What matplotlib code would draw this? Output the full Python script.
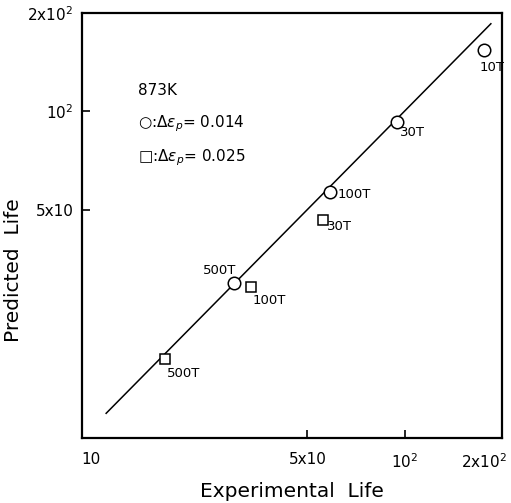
import matplotlib
matplotlib.use('Agg')
import matplotlib.pyplot as plt
import matplotlib.transforms as mtransforms

# Dados (vida experimental x vida prevista)
circ_exp = [176, 95, 58.8, 29.6]
circ_pred = [154, 92.6, 56.4, 29.9]
circ_lab = ['10T', '30T', '100T', '500T']

sq_exp = [55.7, 33.4, 18.1]
sq_pred = [46.5, 28.9, 17.4]
sq_lab = ['30T', '100T', '500T']

line_x = [11.9, 185]
line_y = [11.9, 185]

xticks = [10, 50, 100, 200]
xtick_labels = ['10', '5x10', '$10^2$', '2x$10^2$']
yticks = [50, 100, 200]
ytick_labels = ['5x10', '$10^2$', '2x$10^2$']

plt.rcParams['font.family'] = ['DejaVu Sans']
plt.rcParams['mathtext.fontset'] = 'dejavusans'

fig = plt.figure(figsize=(5.11, 5.03), dpi=100)
ax = fig.add_axes([0.16, 0.1292, 0.822, 0.8456])
ax.set_xscale('log')
ax.set_yscale('log')
ax.set_xlim(10, 200)
ax.set_ylim(10, 200)

ax.plot(line_x, line_y, color='black', lw=1.1)
ax.plot(circ_exp, circ_pred, 'o', mfc='white', mec='black', ms=9, mew=1.1)
ax.plot(sq_exp, sq_pred, 's', mfc='white', mec='black', ms=7, mew=1.1)

# Rótulos dos pontos (offset em pontos, alinhamento)
circ_off = [(-3, -13, 'left'), (1.5, -7.5, 'left'), (5, -1.5, 'left'), (1.5, 8.5, 'right')]
for x, y, t, (dx, dy, ha) in zip(circ_exp, circ_pred, circ_lab, circ_off):
    ax.annotate(t, (x, y), xytext=(dx, dy), textcoords='offset points',
                fontsize=9.5, ha=ha, va='center')
sq_off = [(3, -4.5), (1.5, -9.5), (1.5, -10)]
for x, y, t, (dx, dy) in zip(sq_exp, sq_pred, sq_lab, sq_off):
    ax.annotate(t, (x, y), xytext=(dx, dy), textcoords='offset points',
                fontsize=9.5, ha='left', va='center')

ax.text(0.135, 0.818, '873K', transform=ax.transAxes, fontsize=11, va='center')
ax.text(0.135, 0.74, '○:$\\Delta\\epsilon_p$= 0.014', transform=ax.transAxes,
        fontsize=11, va='center')
ax.text(0.135, 0.66, '□:$\\Delta\\epsilon_p$= 0.025', transform=ax.transAxes,
        fontsize=11, va='center')

ax.set_xticks(xticks)
ax.set_xticklabels(xtick_labels)
ax.set_yticks(yticks)
ax.set_yticklabels(ytick_labels)
ax.minorticks_off()
ax.tick_params(direction='in', length=6, width=1.2, labelsize=11)
ax.tick_params(axis='x', pad=10)
ax.tick_params(axis='y', pad=6)
for s in ax.spines.values():
    s.set_linewidth(1.6)

# primeiro rótulo x alinhado à esquerda, último à direita
xl = ax.get_xticklabels()
xl[0].set_ha('left')
xl[-1].set_ha('right')
xl[-1].set_transform(xl[-1].get_transform() +
                     mtransforms.ScaledTranslation(4 / 72, 0, fig.dpi_scale_trans))

ax.set_xlabel('Experimental  Life', fontsize=14.5, labelpad=8)
ax.set_ylabel('Predicted  Life', fontsize=14.5)
ax.yaxis.set_label_coords(-0.14, 0.395)

fig.savefig('out.png', dpi=100)
